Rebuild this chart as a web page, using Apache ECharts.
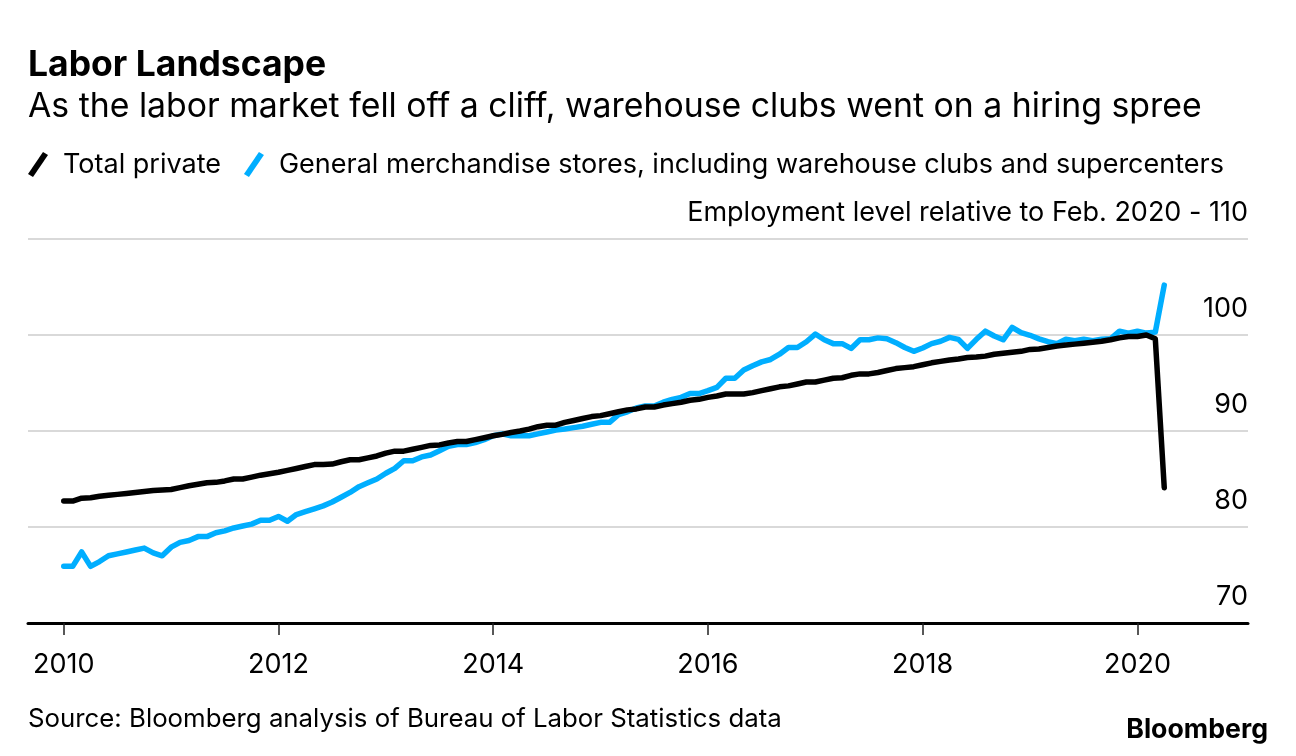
<!DOCTYPE html>
<html>
<head>
<meta charset="utf-8">
<style>
  html, body { margin: 0; padding: 0; background: #ffffff; }
  #chart { width: 1296px; height: 756px; }
</style>
<script src="https://cdn.jsdelivr.net/npm/echarts@6/dist/echarts.min.js"></script>
</head>
<body>
<div id="chart"></div>
<script>
// Monthly data starting Jan 2010, ending Apr 2020
var startYear = 2010;
var seriesNames = ['Total private', 'General merchandise stores, including warehouse clubs and supercenters'];
var totalPrivate = [
  82.7, 82.7, 83.0, 83.05, 83.2, 83.3, 83.4, 83.5, 83.6, 83.7, 83.8, 83.85,
  83.9, 84.1, 84.3, 84.45, 84.6, 84.65, 84.8, 85.0, 85.0, 85.2, 85.4, 85.55,
  85.7, 85.9, 86.1, 86.3, 86.5, 86.5, 86.55, 86.8, 87.0, 87.0, 87.2, 87.4,
  87.7, 87.9, 87.9, 88.1, 88.3, 88.5, 88.55, 88.75, 88.9, 88.9, 89.1, 89.3,
  89.5, 89.65, 89.85, 90.0, 90.2, 90.45, 90.6, 90.6, 90.9, 91.1, 91.3, 91.5,
  91.6, 91.8, 92.0, 92.2, 92.3, 92.5, 92.5, 92.7, 92.85, 93.0, 93.2, 93.3,
  93.5, 93.65, 93.85, 93.85, 93.85, 94.0, 94.2, 94.4, 94.6, 94.7, 94.9, 95.1,
  95.1, 95.3, 95.5, 95.55, 95.8, 95.95, 95.95, 96.1, 96.3, 96.5, 96.6, 96.7,
  96.9, 97.1, 97.25, 97.4, 97.5, 97.65, 97.7, 97.8, 98.0, 98.1, 98.2, 98.3,
  98.5, 98.55, 98.7, 98.85, 98.95, 99.05, 99.15, 99.25, 99.35, 99.5, 99.7, 99.85,
  99.85, 100.0, 99.6, 84.1
];
var generalMerch = [
  75.9, 75.9, 77.4, 75.9, 76.4, 77.0, 77.2, 77.4, 77.6, 77.8, 77.3, 77.0,
  77.9, 78.4, 78.6, 79.0, 79.0, 79.4, 79.6, 79.9, 80.1, 80.3, 80.7, 80.7,
  81.1, 80.6, 81.3, 81.6, 81.9, 82.2, 82.6, 83.1, 83.6, 84.2, 84.6, 85.0,
  85.6, 86.1, 86.9, 86.9, 87.3, 87.5, 87.95, 88.4, 88.6, 88.6, 88.8, 89.1,
  89.5, 89.7, 89.5, 89.5, 89.5, 89.7, 89.9, 90.1, 90.2, 90.35, 90.5, 90.7,
  90.9, 90.9, 91.7, 92.0, 92.4, 92.6, 92.6, 93.0, 93.3, 93.5, 93.9, 93.9,
  94.2, 94.55, 95.5, 95.5, 96.35, 96.8, 97.2, 97.45, 98.0, 98.7, 98.7, 99.3,
  100.1, 99.5, 99.1, 99.1, 98.6, 99.5, 99.5, 99.7, 99.6, 99.2, 98.7, 98.3,
  98.65, 99.1, 99.35, 99.75, 99.55, 98.6, 99.55, 100.4, 99.9, 99.5, 100.8, 100.25,
  99.97, 99.6, 99.3, 99.1, 99.55, 99.4, 99.55, 99.4, 99.55, 99.6, 100.4, 100.2,
  100.4, 100.2, 100.3, 105.2
];
var xTickYears = [2010, 2012, 2014, 2016, 2018, 2020];
var yTicks = [70, 80, 90, 100, 110];
var yAxisTitle = 'Employment level relative to Feb. 2020 - 110';

function toPairs(values) {
  return values.map(function (v, i) { return [startYear + i / 12, v]; });
}

var FONT = 'Inter, "Liberation Sans", Arial, sans-serif';
var chart = echarts.init(document.getElementById('chart'), null, { renderer: 'canvas' });
var slashIcon = 'path://M0,22 L15,0 L20,3 L5,25 Z';

chart.setOption({
  backgroundColor: '#ffffff',
  animation: false,
  title: [
    { text: 'Labor Landscape', left: 28, top: 47.5, padding: 0,
      textStyle: { fontFamily: FONT, fontSize: 35.5, fontWeight: 'bold', color: '#000' } },
    { text: 'As the labor market fell off a cliff, warehouse clubs went on a hiring spree', left: 28, top: 89.5, padding: 0,
      textStyle: { fontFamily: FONT, fontSize: 33.8, fontWeight: 'normal', color: '#000' } },
    { text: 'Source: Bloomberg analysis of Bureau of Labor Statistics data', left: 28, top: 706.5, padding: 0,
      textStyle: { fontFamily: FONT, fontSize: 25.8, fontWeight: 'normal', color: '#000' } },
    { text: 'Bloomberg', right: 28, top: 716, padding: 0,
      textStyle: { fontFamily: FONT, fontSize: 26.7, fontWeight: 'bold', color: '#000' } }
  ],
  legend: {
    left: 23, top: 146,
    icon: slashIcon,
    itemWidth: 20, itemHeight: 25, itemGap: 23,
    textStyle: { fontFamily: FONT, fontSize: 27, color: '#000', padding: [0, 0, 0, 10] },
    data: [seriesNames[0], seriesNames[1]]
  },
  grid: { left: 28, right: 48, top: 239, bottom: 133, containLabel: false },
  xAxis: {
    type: 'value',
    min: 2009.667, max: 2021.03,
    splitLine: { show: false },
    axisLine: { show: true, lineStyle: { color: '#000', width: 3 } },
    axisTick: { show: true, customValues: xTickYears, length: 12, lineStyle: { color: '#222', width: 1.5 } },
    axisLabel: { customValues: xTickYears, formatter: function (v) { return String(v); },
      margin: 28, fontFamily: FONT, fontSize: 27, color: '#000' }
  },
  yAxis: {
    type: 'value', position: 'right',
    min: 70, max: 110, interval: 10,
    axisLine: { show: false },
    axisTick: { show: false },
    splitLine: { show: true, lineStyle: { color: '#d9d9d9', width: 2 } },
    axisLabel: {
      inside: true, margin: 0, align: 'right', verticalAlign: 'bottom',
      padding: [0, 0, 13, 0],
      showMinLabel: true, showMaxLabel: true,
      fontFamily: FONT, fontSize: 27, color: '#000',
      formatter: function (v) { return v === 110 ? yAxisTitle : String(v); }
    }
  },
  series: [
    {
      name: seriesNames[1], type: 'line', data: toPairs(generalMerch), z: 2,
      showSymbol: false, symbol: 'none', color: '#00aeff',
      lineStyle: { width: 5.5, color: '#00aeff', cap: 'round', join: 'round' }
    },
    {
      name: seriesNames[0], type: 'line', data: toPairs(totalPrivate), z: 3,
      showSymbol: false, symbol: 'none', color: '#000000',
      lineStyle: { width: 5.5, color: '#000000', cap: 'round', join: 'round' }
    }
  ]
});
</script>
</body>
</html>
